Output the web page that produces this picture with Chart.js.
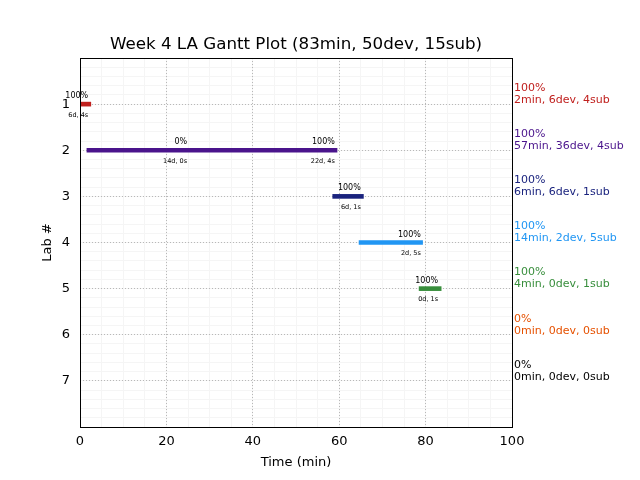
<!DOCTYPE html>
<html><head><meta charset="utf-8">
<script src="https://cdn.jsdelivr.net/npm/chart.js@4/dist/chart.umd.min.js"></script>
<style>html,body{margin:0;padding:0;background:#fff}#c{display:block}</style>
</head><body>
<canvas id="c" width="640" height="480"></canvas>
<script>
const titleText = 'Week 4 LA Gantt Plot (83min, 50dev, 15sub)';
const labs = [1, 2, 3, 4, 5, 6, 7];
const labColors = ['#c0201e', '#4a148c', '#1a237e', '#2196f3', '#388e3c', '#e65100', '#000000'];
const labPercent = ['100%', '100%', '100%', '100%', '100%', '0%', '0%'];
const labSummary = ['2min, 6dev, 4sub', '57min, 36dev, 4sub', '6min, 6dev, 1sub', '14min, 2dev, 5sub', '4min, 0dev, 1sub', '0min, 0dev, 0sub', '0min, 0dev, 0sub'];
const barLab = [1, 2, 3, 4, 5];
const barStart = [0.2, 1.6, 58.5, 64.6, 78.5];
const barEnd = [2.5, 59.5, 65.6, 79.3, 83.6];
const annLab = [1, 2, 2, 3, 4, 5];
const annX = [1.9, 24.8, 59.0, 65.0, 78.9, 82.9];
const annTop = ['100%', '0%', '100%', '100%', '100%', '100%'];
const annBottom = ['6d, 4s', '14d, 0s', '22d, 4s', '6d, 1s', '2d, 5s', '0d, 1s'];
const xTicks = [0, 20, 40, 60, 80, 100];
const yTicks = [1, 2, 3, 4, 5, 6, 7];

const FONT = "'DejaVu Sans', sans-serif";

const textPlugin = {
  id: 'texts',
  afterDraw(chart) {
    const ctx = chart.ctx, ca = chart.chartArea;
    const xs = chart.scales.x, ys = chart.scales.y;
    ctx.save();
    ctx.strokeStyle = '#000'; ctx.lineWidth = 1;
    ctx.strokeRect(Math.round(ca.left) + 0.5, Math.round(ca.top) + 0.5, Math.round(ca.right - ca.left), Math.round(ca.bottom - ca.top));
    ctx.fillStyle = '#000';
    ctx.font = '16.7px ' + FONT;
    ctx.textAlign = 'center'; ctx.textBaseline = 'middle';
    ctx.fillText(titleText, (ca.left + ca.right) / 2, 45);
    ctx.font = '13px ' + FONT;
    ctx.fillText('Time (min)', (ca.left + ca.right) / 2, 463);
    ctx.save();
    ctx.translate(48, (ca.top + ca.bottom) / 2);
    ctx.rotate(-Math.PI / 2);
    ctx.fillText('Lab #', 0, 0);
    ctx.restore();
    ctx.textAlign = 'right';
    for (let i = 0; i < annLab.length; i++) {
      const px = xs.getPixelForValue(annX[i]);
      const py = ys.getPixelForValue(annLab[i]);
      ctx.fillStyle = '#000';
      ctx.font = '8px ' + FONT;
      ctx.fillText(annTop[i], px, py - 8);
      ctx.font = '6.5px ' + FONT;
      ctx.fillText(annBottom[i], px, py + 11);
    }
    ctx.textAlign = 'left';
    ctx.font = '11px ' + FONT;
    for (let i = 0; i < labs.length; i++) {
      const py = ys.getPixelForValue(labs[i]);
      ctx.fillStyle = labColors[i];
      ctx.fillText(labPercent[i], ca.right + 2, py - 16);
      ctx.fillText(labSummary[i], ca.right + 2, py - 4);
    }
    ctx.restore();
  }
};

new Chart(document.getElementById('c'), {
  type: 'bar',
  data: {
    datasets: [{
      data: barLab.map((l, i) => ({ y: l, x: [barStart[i], barEnd[i]] })),
      backgroundColor: barLab.map(l => labColors[l - 1]),
      borderWidth: 0,
      barThickness: 4,
      xAxisID: 'x',
      yAxisID: 'y'
    }]
  },
  options: {
    indexAxis: 'y',
    responsive: false,
    animation: false,
    events: [],
    layout: { padding: { left: 0, right: 128, top: 58, bottom: 0 } },
    plugins: { legend: { display: false }, tooltip: { enabled: false }, title: { display: false } },
    scales: {
      xMinor: {
        type: 'linear', axis: 'x', position: 'bottom', min: 0, max: 100, offset: false,
        ticks: { display: false, stepSize: 5 },
        grid: { color: '#f5f5f5', lineWidth: 1, drawTicks: false, offset: false },
        border: { display: false },
        afterFit(s) { s.height = 0; }
      },
      yMinor: {
        type: 'linear', axis: 'y', position: 'left', min: 0, max: 8, reverse: true, offset: false,
        ticks: { display: false, stepSize: 0.2 },
        grid: { color: '#f5f5f5', lineWidth: 1, drawTicks: false, offset: false },
        border: { display: false },
        afterFit(s) { s.width = 0; }
      },
      x: {
        type: 'linear', position: 'bottom', min: 0, max: 100, offset: false,
        afterBuildTicks(s) { s.ticks = xTicks.map(v => ({ value: v })); },
        ticks: { color: '#000', font: { family: FONT, size: 13 }, padding: 7, maxRotation: 0 },
        grid: {
          drawTicks: false, lineWidth: 1, offset: false,
          color: c => (c.tick && (c.tick.value === 0 || c.tick.value === 100)) ? 'rgba(0,0,0,0)' : '#b8b8b8'
        },
        border: { display: false, dash: [1, 2] },
        afterFit(s) { s.height = 53; }
      },
      y: {
        type: 'linear', position: 'left', min: 0, max: 8, reverse: true, offset: false,
        afterBuildTicks(s) { s.ticks = yTicks.map(v => ({ value: v })); },
        ticks: { color: '#000', font: { family: FONT, size: 13 }, padding: 10 },
        grid: { drawTicks: false, lineWidth: 1, color: '#b8b8b8', offset: false },
        border: { display: false, dash: [1, 2] },
        afterFit(s) { s.width = 80; }
      }
    }
  },
  plugins: [textPlugin]
});
</script>
</body></html>
